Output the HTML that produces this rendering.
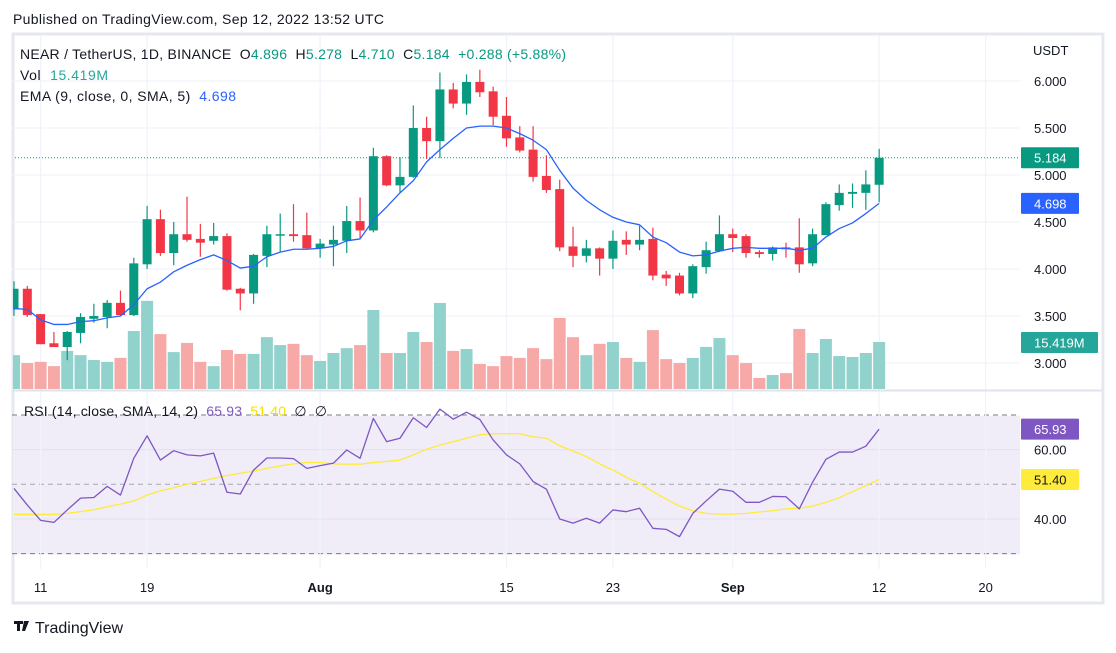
<!DOCTYPE html>
<html><head><meta charset="utf-8"><style>
body{margin:0;background:#fff;font-family:"Liberation Sans",sans-serif;}
svg text{font-family:"Liberation Sans",sans-serif;white-space:pre;}
</style></head><body>
<svg id="c" width="1116" height="648" viewBox="0 0 1116 648" xmlns="http://www.w3.org/2000/svg">
<defs><clipPath id="plot"><rect x="13" y="35" width="1007" height="534"/></clipPath></defs>
<text x="13" y="24" font-size="14" fill="#131722" textLength="371">Published on TradingView.com, Sep 12, 2022 13:52 UTC</text>
<rect x="13" y="34" width="1090" height="569" fill="none" stroke="#e6e8ef" stroke-width="3"/>
<rect x="13" y="415.7" width="1007" height="138.6" fill="#f0ecf8"/>
<g id="grid"></g>
<line x1="12" y1="390.5" x2="1102" y2="390.5" stroke="#e0e3eb" stroke-width="2"/>
<g clip-path="url(#plot)"><g id="vol"></g><g id="candles"></g><g id="lines"></g></g><g id="axes"></g>
<text x="20" y="59" font-size="14" fill="#131722" textLength="546">NEAR / TetherUS, 1D, BINANCE  O<tspan fill="#089981">4.896</tspan>  H<tspan fill="#089981">5.278</tspan>  L<tspan fill="#089981">4.710</tspan>  C<tspan fill="#089981">5.184</tspan>  <tspan fill="#089981">+0.288 (+5.88%)</tspan></text>
<text x="20" y="80" font-size="14" fill="#131722" textLength="88">Vol  <tspan fill="#26a69a">15.419M</tspan></text>
<text x="20" y="101" font-size="14" fill="#131722" textLength="216">EMA (9, close, 0, SMA, 5)  <tspan fill="#2962ff">4.698</tspan></text>
<text x="24" y="416" font-size="14" fill="#131722" textLength="303">RSI (14, close, SMA, 14, 2)  <tspan fill="#7e57c2">65.93</tspan>  <tspan fill="#f5e000">51.40</tspan>  ∅  ∅</text>
<g><path d="M14 621h9v3h-3v7h-3v-7h-3z M24 621h5l-4 10h-3z" fill="#131722"/><text x="35" y="633" font-size="16" fill="#131722">TradingView</text></g>
</svg>
<script>
const opens=[3.57,3.79,3.52,3.21,3.17,3.32,3.47,3.49,3.64,3.51,4.05,4.53,4.17,4.37,4.32,4.30,4.35,3.79,3.74,4.14,4.36,4.37,4.36,4.22,4.26,4.30,4.51,4.41,5.20,4.89,4.98,5.50,5.36,5.91,5.76,5.99,5.89,5.63,5.40,5.27,4.99,4.85,4.24,4.14,4.22,4.11,4.31,4.26,4.32,3.94,3.93,3.74,4.02,4.19,4.37,4.35,4.18,4.16,4.23,4.23,4.06,4.36,4.68,4.80,4.81,4.896];
const closes=[3.79,3.51,3.20,3.17,3.33,3.49,3.50,3.64,3.51,4.06,4.53,4.17,4.37,4.31,4.28,4.35,3.78,3.74,4.15,4.37,4.37,4.35,4.22,4.27,4.31,4.51,4.41,5.20,4.89,4.98,5.50,5.36,5.91,5.76,5.99,5.88,5.62,5.39,5.26,4.98,4.84,4.23,4.14,4.22,4.11,4.30,4.26,4.31,3.93,3.90,3.74,4.03,4.20,4.37,4.33,4.17,4.16,4.23,4.21,4.05,4.37,4.69,4.81,4.82,4.90,5.184];
const highs=[3.87,3.82,3.52,3.33,3.34,3.53,3.63,3.67,3.77,4.12,4.67,4.63,4.50,4.77,4.48,4.49,4.38,3.80,4.16,4.46,4.59,4.69,4.60,4.32,4.46,4.67,4.76,5.29,5.21,5.19,5.74,5.62,6.09,5.98,6.07,6.12,5.94,5.83,5.52,5.52,5.21,4.95,4.45,4.31,4.23,4.41,4.40,4.46,4.44,3.98,3.96,4.05,4.29,4.57,4.43,4.37,4.20,4.24,4.28,4.54,4.43,4.71,4.90,4.91,5.05,5.278];
const lows=[3.50,3.49,3.20,3.17,3.03,3.21,3.43,3.37,3.50,3.50,4.00,4.14,4.04,4.29,4.13,4.26,3.77,3.56,3.63,4.02,4.18,4.29,4.21,4.12,4.03,4.17,4.33,4.39,4.88,4.81,4.97,5.17,5.18,5.71,5.64,5.83,5.53,5.30,5.24,4.93,4.81,4.19,4.02,4.07,3.93,4.00,4.15,4.20,3.88,3.82,3.72,3.69,3.95,4.18,4.18,4.12,4.12,4.09,4.12,3.96,4.03,4.36,4.62,4.65,4.63,4.710];
const volumes=[11.1,8.5,8.9,7.5,12.5,11.1,9.5,8.9,10.2,19.0,28.9,18.0,12.1,15.1,8.9,7.5,12.8,11.5,11.5,17.0,14.4,14.8,11.1,9.2,11.8,13.4,14.4,25.9,11.8,11.8,18.7,15.4,28.2,12.5,13.1,8.2,7.5,10.8,10.2,13.4,9.8,23.3,17.0,11.1,14.8,15.4,10.2,8.9,19.3,9.8,8.5,10.2,13.8,16.7,11.1,8.5,3.6,4.6,5.2,19.7,11.8,16.4,10.8,10.5,11.8,15.419];
const emaValues=[3.58,3.57,3.46,3.41,3.41,3.44,3.45,3.48,3.50,3.62,3.79,3.86,3.97,4.04,4.10,4.15,4.09,4.01,4.03,4.13,4.18,4.21,4.21,4.22,4.24,4.30,4.32,4.52,4.66,4.81,4.94,5.14,5.27,5.39,5.50,5.52,5.52,5.50,5.44,5.37,5.27,5.05,4.86,4.73,4.63,4.55,4.50,4.47,4.34,4.28,4.18,4.14,4.15,4.19,4.22,4.23,4.22,4.22,4.22,4.20,4.22,4.34,4.43,4.49,4.59,4.698];
const rsiValues=[48.8,44.0,39.6,39.0,42.6,46.0,46.2,49.4,46.9,57.5,64.0,57.0,59.7,58.5,58.2,59.0,47.7,47.2,54.1,57.6,57.6,57.4,54.6,55.4,56.1,59.9,57.5,69.0,62.3,63.3,69.2,66.4,71.7,68.8,70.8,68.7,62.8,58.5,55.9,50.8,48.6,40.0,38.8,40.2,38.8,42.6,42.1,43.1,37.3,37.0,34.9,41.6,45.2,48.6,48.0,44.8,44.8,46.5,46.4,42.9,50.6,57.2,59.3,59.3,61.0,65.93];
const rsiMaValues=[41.3,41.3,41.3,41.3,41.6,42.1,42.7,43.5,44.3,45.2,46.9,48.1,49.0,50.0,50.8,51.7,52.5,53.2,53.8,54.6,55.3,55.9,56.3,56.3,55.9,55.8,55.8,56.3,56.6,57.0,58.5,60.1,61.3,62.3,63.3,64.3,64.6,64.6,64.6,63.7,63.3,61.1,59.6,58.0,55.9,54.1,52.0,50.3,47.9,45.7,43.7,42.4,41.6,41.4,41.4,41.6,42.0,42.4,42.9,43.1,43.7,44.8,46.1,47.9,49.6,51.40];
const priceTicks=["6.000","5.500","5.000","4.500","4.000","3.500","3.000"];
const rsiTicks=["60.00","40.00"];
const dateLabels=["11","19","Aug","15","23","Sep","12","20"];
const dateIndex=[2,10,23,37,45,54,65,73];

const NS="http://www.w3.org/2000/svg";
const X=i=>14+13.31*i;
const Y=p=>81+(6-p)*94;
const VY=v=>389-v*3.05;
const RY=r=>484.3-(r-50)*3.465;
function mk(tag,attrs,parent){const e=document.createElementNS(NS,tag);for(const k in attrs)e.setAttribute(k,attrs[k]);document.getElementById(parent).appendChild(e);return e;}
const G="#089981",R="#f23645";
priceTicks.forEach(t=>{const y=Y(parseFloat(t));const l=mk('line',{x1:12,x2:1020,y1:y,y2:y,stroke:'#f0f3fa','stroke-width':1.3},'grid');


const tx=mk('text',{x:1034,y:y+5,'font-size':13,fill:'#131722'},'axes');tx.textContent=t;

});
rsiTicks.forEach(t=>{const y=RY(parseFloat(t));const l=mk('line',{x1:12,x2:1020,y1:y,y2:y,stroke:'#e3e0ee','stroke-width':1},'grid');


const tx=mk('text',{x:1034,y:y+5,'font-size':13,fill:'#131722'},'axes');tx.textContent=t;

});
[70,50,30].forEach(v=>{const l=mk('line',{x1:12,x2:1020,y1:RY(v),y2:RY(v),stroke:v==50?'#a8a8b0':'#787b86','stroke-width':1,'stroke-dasharray':'5 4'},'grid');

});
dateLabels.forEach((d,k)=>{const x=X(dateIndex[k]);const l=mk('line',{x1:x,x2:x,y1:36,y2:569,stroke:'#f0f3fa','stroke-width':1.3},'grid');


const bold=(d=="Aug"||d=="Sep");
const tx=mk('text',{x:x,y:592,'font-size':13,fill:'#131722','text-anchor':'middle','font-weight':bold?'bold':'normal'},'axes');tx.textContent=d;

});
const usd=mk('text',{x:1033,y:55,'font-size':13,fill:'#131722'},'axes');usd.textContent="USDT";


volumes.forEach((v,i)=>{const up=closes[i]>=opens[i];const r=mk('rect',{x:X(i)-6,y:VY(v),width:12,height:389-VY(v),fill:up?'#92d2cc':'#f7a9a7'},'vol');

});
opens.forEach((o,i)=>{const c=closes[i],up=c>=o,col=up?G:R;const x=X(i);
const w=mk('line',{x1:x,x2:x,y1:Y(highs[i]),y2:Y(lows[i]),stroke:col,'stroke-width':1.2},'candles');


const top=Y(Math.max(o,c)),bh=Math.max(1.5,Math.abs(Y(o)-Y(c)));
const b=mk('rect',{x:x-4.5,y:top,width:9,height:bh,fill:col},'candles');

});
function poly(vals,fn,col,w,name){const p=mk('polyline',{points:vals.map((v,i)=>X(i)+','+fn(v)).join(' '),fill:'none',stroke:col,'stroke-width':w,'stroke-linejoin':'round'},'lines');

}
poly(emaValues,Y,'#2962ff',1.3,'ema-line');
poly(rsiMaValues,RY,'#ffeb3b',1.3,'rsi-ma-line');
poly(rsiValues,RY,'#7e57c2',1.3,'rsi-line');
const last=closes[closes.length-1];
const pl=mk('line',{x1:12,x2:1020,y1:Y(last),y2:Y(last),stroke:G,'stroke-width':1,'stroke-dasharray':'1 2'},'lines');


function badge(val,txt,col,tcol,w,name){const y=val;const r=mk('rect',{x:1021,y:y-10.5,width:w,height:21,fill:col,rx:1},'axes');


const t=mk('text',{x:1034,y:y+5,'font-size':13,fill:tcol},'axes');t.textContent=txt;

}
badge(Y(last),last.toFixed(3),G,'#fff',58,'last-price-badge');
badge(Y(emaValues[65]),emaValues[65].toFixed(3),'#2962ff','#fff',58,'ema-badge');
badge(VY(volumes[65])+0.5,volumes[65].toFixed(3)+'M','#26a69a','#fff',77,'volume-badge');
badge(RY(rsiValues[65]),rsiValues[65].toFixed(2),'#7e57c2','#fff',58,'rsi-badge');
badge(RY(rsiMaValues[65]),rsiMaValues[65].toFixed(2),'#ffeb3b','#131722',58,'rsi-ma-badge');
</script>
</body></html>
